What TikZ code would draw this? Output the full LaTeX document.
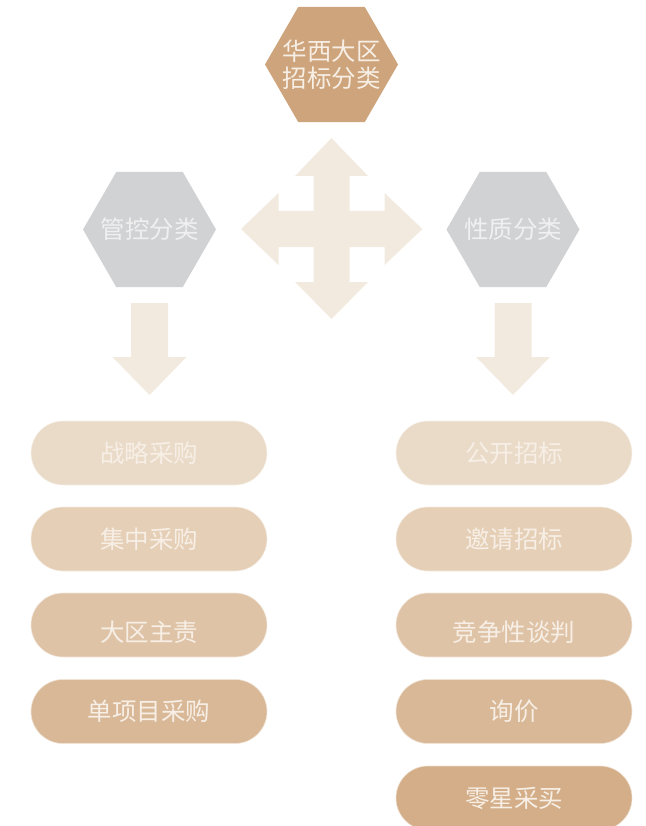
\documentclass[tikz,border=0pt]{standalone}
\usepackage{fontspec}
\newfontfamily\cjk{Noto Sans CJK SC}
\usetikzlibrary{shapes.geometric,shapes.misc}
\definecolor{hexTop}{HTML}{CDA47B}
\definecolor{hexGray}{HTML}{D1D2D4}
\definecolor{arrowC}{HTML}{F2EADF}
\definecolor{pillA}{HTML}{EADBC9}
\definecolor{pillB}{HTML}{E5CFB6}
\definecolor{pillC}{HTML}{DFC3A7}
\definecolor{pillD}{HTML}{D9B897}
\definecolor{pillE}{HTML}{D3AE88}
\definecolor{txtLight}{HTML}{F7EFE6}
\definecolor{txtGray}{HTML}{F0F0F1}
\tikzset{
  hexa/.style={regular polygon, regular polygon sides=6, minimum size=133pt, inner sep=0pt, draw=none},
  label/.style={font=\cjk\fontsize{24.5}{29}\selectfont, text=txtLight, align=center, inner sep=0pt},
  pill/.style={rounded rectangle, minimum width=236pt, minimum height=64pt, inner sep=0pt, draw=white!60!#1, line width=0.6pt, fill=#1},
  arr/.style={fill=arrowC, draw=none}
}
\begin{document}
\begin{tikzpicture}[x=1pt,y=-1pt]
\useasboundingbox (0,0) rectangle (645,826);
\clip (0,0) rectangle (645,826);

% hexagons
\node[hexa, fill=hexTop] (top) at (331.5,64.5) {};
\node[label, text=txtLight] (topt) at (top) {华西大区\\[-2pt]招标分类};
\node[hexa, fill=hexGray] (left) at (149.5,229.5) {};
\node[label, text=txtGray] (leftt) at (left) {管控分类};
\node[hexa, fill=hexGray] (right) at (513,229.5) {};
\node[label, text=txtGray] (rightt) at (right) {性质分类};

% four-way arrow
\coordinate (c) at (331.5,229);
\fill[arr] (c) ++(0,-91) -- ++(36.5,38) -- ++(-18.5,0) -- ++(0,35) -- ++(35,0) -- ++(0,-18) -- ++(38,36)
  -- ++(-38,36) -- ++(0,-18) -- ++(-35,0) -- ++(0,35) -- ++(18.5,0) -- ++(-36.5,37)
  -- ++(-36.5,-37) -- ++(18.5,0) -- ++(0,-35) -- ++(-35,0) -- ++(0,18) -- ++(-37.5,-36)
  -- ++(37.5,-36) -- ++(0,18) -- ++(35,0) -- ++(0,-35) -- ++(-18.5,0) -- cycle;

% down arrows
\foreach \n/\x in {la/149.5, ra/513}{
  \coordinate (\n) at (\x,303);
  \fill[arr] (\n) ++(-18.5,0) -- ++(37,0) -- ++(0,54) -- ++(18.5,0) -- ++(-37,38) -- ++(-37,-38) -- ++(18.5,0) -- cycle;
}

% pills left
\node[pill=pillA] (l1) at (149,453) {};
\node[pill=pillB] (l2) at (149,539) {};
\node[pill=pillC] (l3) at (149,625) {};
\node[pill=pillD] (l4) at (149,711.5) {};
\node[label] (l1t) at (l1) {战略采购};
\node[label] (l2t) at (l2) {集中采购};
\node[label] (l3t) at ([yshift=-7pt]l3.center) {大区主责};
\node[label] (l4t) at (l4) {单项目采购};

% pills right
\node[pill=pillA] (r1) at (514,453) {};
\node[pill=pillB] (r2) at (514,539) {};
\node[pill=pillC] (r3) at (514,625) {};
\node[pill=pillD] (r4) at (514,711.5) {};
\node[pill=pillE] (r5) at (514,798) {};
\node[label] (r1t) at (r1) {公开招标};
\node[label] (r2t) at (r2) {邀请招标};
\node[label] (r3t) at ([yshift=-7pt]r3.center) {竞争性谈判};
\node[label] (r4t) at (r4) {询价};
\node[label] (r5t) at (r5) {零星采买};
\end{tikzpicture}
\end{document}
